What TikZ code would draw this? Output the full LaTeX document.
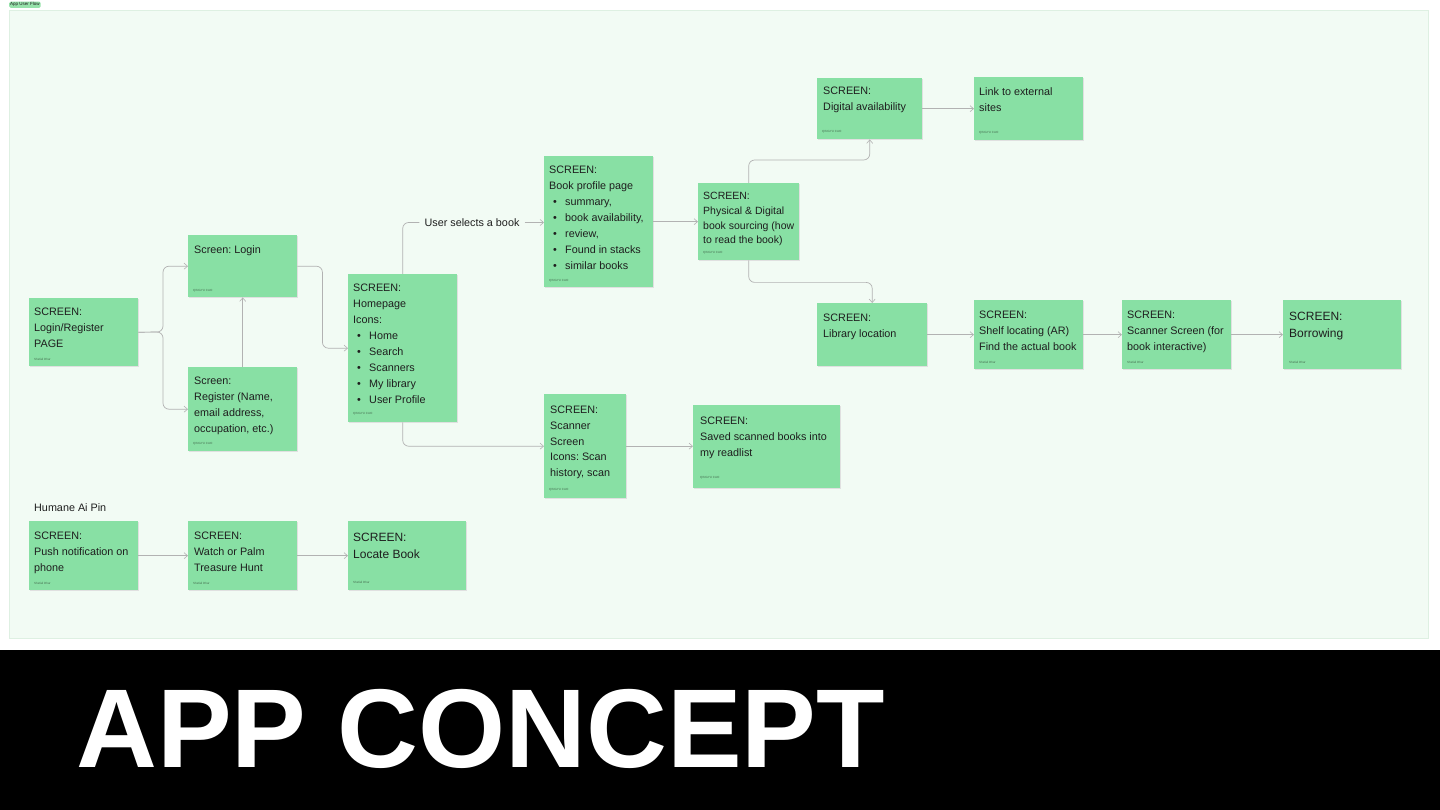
\documentclass[tikz,border=0pt]{standalone}
\usepackage{fontspec}
\setmainfont{Liberation Sans}
\usetikzlibrary{arrows.meta,shadows,calc}
\definecolor{boxg}{RGB}{136,224,164}
\definecolor{framebg}{RGB}{242,251,244}
\definecolor{frameln}{RGB}{222,240,226}
\definecolor{tabg}{RGB}{150,226,170}
\definecolor{txtc}{RGB}{30,30,30}
\definecolor{linec}{RGB}{178,178,178}
\definecolor{tinyc}{RGB}{70,110,80}
\newcommand{\itm}[1]{\makebox[16pt][l]{\hspace{4pt}\textbullet}#1}
\frenchspacing
\begin{document}
\begin{tikzpicture}[x=1pt,y=-1pt,
  box/.style={rectangle,fill=boxg,draw=none,inner sep=0pt,anchor=north west,
    general shadow={fill=black!12,shadow xshift=0.4pt,shadow yshift=-1pt}},
  txt/.style={anchor=north west,inner sep=0pt,align=left,text=txtc,font=\fontsize{10.8}{16}\selectfont},
  bigtxt/.style={txt,font=\fontsize{12}{17}\selectfont},
  tiny/.style={anchor=west,inner sep=0pt,text=tinyc,font=\fontsize{3}{3}\selectfont},
  conn/.style={draw=linec,line width=0.7pt,rounded corners=6pt,-{Straight Barb[length=3.5pt,width=6pt,line width=0.6pt]}},
  plain/.style={draw=linec,line width=0.7pt,rounded corners=6pt}]
\useasboundingbox (0,0) rectangle (1440,810);
\fill[white] (0,0) rectangle (1440,810);
% frame
\node[rectangle,draw=frameln,fill=framebg,line width=0.5pt,anchor=north west,inner sep=0pt,minimum width=1419pt,minimum height=628pt] (frame) at (9,10) {};
\node[rectangle,fill=tabg,rounded corners=1.5pt,anchor=north west,inner sep=1pt,font=\fontsize{4.5}{5}\selectfont,text=txtc] (tab) at (9,1.5) {App User Flow};
% black band
\fill[black] (0,650) rectangle (1440,810);
\node[anchor=base west,inner sep=0pt,text=white,font=\fontsize{112}{112}\selectfont\bfseries] (title) at (76,767) {APP CONCEPT};

% boxes
\node[box,minimum width=109pt,minimum height=68pt] (lr) at (29,298) {};
\node[box,minimum width=109pt,minimum height=62pt] (login) at (188,235) {};
\node[box,minimum width=109pt,minimum height=84pt] (reg) at (188,367) {};
\node[box,minimum width=109pt,minimum height=148pt] (home) at (348,274) {};
\node[box,minimum width=109pt,minimum height=131pt] (book) at (544,156) {};
\node[box,minimum width=101pt,minimum height=77pt] (phys) at (698,183) {};
\node[box,minimum width=105pt,minimum height=61pt] (dig) at (817,78) {};
\node[box,minimum width=109pt,minimum height=63pt] (link) at (974,77) {};
\node[box,minimum width=110pt,minimum height=63pt] (lib) at (817,303) {};
\node[box,minimum width=109pt,minimum height=69pt] (shelf) at (974,300) {};
\node[box,minimum width=109pt,minimum height=69pt] (scanf) at (1122,300) {};
\node[box,minimum width=118pt,minimum height=69pt] (borrow) at (1283,300) {};
\node[box,minimum width=82pt,minimum height=104pt] (scan) at (544,394) {};
\node[box,minimum width=147pt,minimum height=83pt] (saved) at (693,405) {};
\node[box,minimum width=109pt,minimum height=69pt] (push) at (29,521) {};
\node[box,minimum width=109pt,minimum height=69pt] (watch) at (188,521) {};
\node[box,minimum width=118pt,minimum height=69pt] (locate) at (348,521) {};

% texts
\node[txt] (lrt) at (34,308) {SCREEN:\\Login/Register\\PAGE};
\node[txt] (logint) at (194,245) {Screen: Login};
\node[txt] (regt) at (194,377) {Screen:\\Register (Name,\\email address,\\occupation, etc.)};
\node[txt] (homet) at (353,284) {SCREEN:\\Homepage\\Icons:\\\itm{Home}\\\itm{Search}\\\itm{Scanners}\\\itm{My library}\\\itm{User Profile}};
\node[txt] (bookt) at (549,166) {SCREEN:\\Book profile page\\\itm{summary,}\\\itm{book availability,}\\\itm{review,}\\\itm{Found in stacks}\\\itm{similar books}};
\node[txt,font=\fontsize{10.5}{14.8}\selectfont] (physt) at (703,192) {SCREEN:\\Physical \& Digital\\book sourcing (how\\to read the book)};
\node[txt] (digt) at (823,87) {SCREEN:\\Digital availability};
\node[txt] (linkt) at (979,87) {Link to external\\sites};
\node[txt] (libt) at (823,314) {SCREEN:\\Library location};
\node[txt] (shelft) at (979,311) {SCREEN:\\Shelf locating (AR)\\Find the actual book};
\node[txt] (scanft) at (1127,311) {SCREEN:\\Scanner Screen (for\\book interactive)};
\node[bigtxt] (borrowt) at (1289,311.5) {SCREEN:\\Borrowing};
\node[txt,font=\fontsize{10.8}{15.7}\selectfont] (scant) at (550,406) {SCREEN:\\Scanner\\Screen\\Icons: Scan\\history, scan};
\node[txt] (savedt) at (700,417) {SCREEN:\\Saved scanned books into\\my readlist};
\node[txt] (pusht) at (34,532) {SCREEN:\\Push notification on\\phone};
\node[txt] (watcht) at (194,532) {SCREEN:\\Watch or Palm\\Treasure Hunt};
\node[bigtxt] (locatet) at (353,532.5) {SCREEN:\\Locate Book};
\node[txt,anchor=west] (humane) at (34,507.5) {Humane Ai Pin};

% tiny author tags
\node[tiny] (a1) at (34,359) {Shefali Dhar};
\node[tiny] (a2) at (193,291) {QINGYU CAO};
\node[tiny] (a3) at (193,444) {QINGYU CAO};
\node[tiny] (a4) at (353,414) {QINGYU CAO};
\node[tiny] (a5) at (549,281) {QINGYU CAO};
\node[tiny] (a6) at (703,253) {QINGYU CAO};
\node[tiny] (a7) at (822,132) {QINGYU CAO};
\node[tiny] (a8) at (979,133) {QINGYU CAO};
\node[tiny] (a9) at (979,362) {Shefali Dhar};
\node[tiny] (a10) at (1127,362) {Shefali Dhar};
\node[tiny] (a11) at (1289,362) {Shefali Dhar};
\node[tiny] (a12) at (549,490) {QINGYU CAO};
\node[tiny] (a13) at (700,478) {QINGYU CAO};
\node[tiny] (a14) at (34,583) {Shefali Dhar};
\node[tiny] (a15) at (193,583) {Shefali Dhar};
\node[tiny] (a16) at (353,582) {Shefali Dhar};

% label
\node[inner sep=0pt,text=txtc,font=\fontsize{10.8}{13}\selectfont] (sel) at (472,222.5) {User selects a book};

% connectors
\coordinate (split) at (163,332);
\draw[conn] (lr.east) -- (split) |- (login.west);
\draw[conn] (lr.east) -- (split) |- (reg.west);
\draw[conn] (reg.north) -- (login.south);
\draw[conn] (login.east) -- ++(25,0) |- (home.west);
\draw[plain] (home.north) |- ([xshift=-5pt]sel.west);
\draw[conn] ([xshift=5pt]sel.east) -- (book.west |- sel);
\draw[conn] (home.south) |- (scan.west);
\draw[conn] (book.west -| book.east) -- (phys.west);
\draw[conn] (phys.north) -- ++(0,-23) -| (dig.south);
\draw[conn] (phys.south) -- ++(0,22) -| (lib.north);
\draw[conn] (dig.east) -- (link.west);
\draw[conn] (lib.east) -- (shelf.west);
\draw[conn] (shelf.east) -- (scanf.west);
\draw[conn] (scanf.east) -- (borrow.west);
\draw[conn] (scan.east) -- (saved.west |- scan.east);
\draw[conn] (push.east) -- (watch.west);
\draw[conn] (watch.east) -- (locate.west);
\end{tikzpicture}
\end{document}
